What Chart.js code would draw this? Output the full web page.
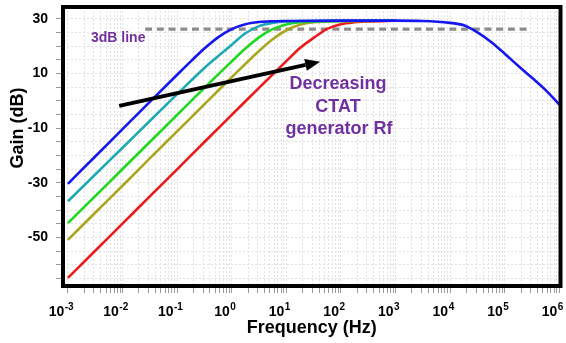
<!DOCTYPE html>
<html><head><meta charset="utf-8">
<script src="https://cdn.jsdelivr.net/npm/chart.js@4/dist/chart.umd.min.js"></script>
<style>html,body{margin:0;padding:0;background:#fff}#wrap{width:566px;height:343px;position:relative}canvas{display:block}</style>
</head><body><div id="wrap"><canvas id="c" width="566" height="343"></canvas></div>
<script>
// ---- data (frequency in Hz, gain in dB) ----
const blueFreq  = [0.001,0.00316,0.01,0.0316,0.1,0.178,0.316,0.562,1,1.78,3.16,5.62,10,100,1000,3162,10000,17783,31623,56234,100000,177828,316228,562341,1000000];
const blueGain  = [-30.4,-20.4,-10.4,-0.4,9.5,14.4,19.1,23.2,26.2,28.0,28.8,29.1,29.2,29.3,29.3,29.2,28.5,27.6,25.0,21.5,17.2,12.7,8.4,3.9,-1.4];
const cyanFreq  = [0.001,0.00316,0.01,0.0316,0.1,0.316,0.562,1,1.78,3.16,5.62,10,31.6,1000];
const cyanGain  = [-36.8,-27.0,-17.2,-7.4,2.4,12.0,16.3,20.5,24.7,27.3,28.5,29.0,29.2,29.3];
const greenFreq = [0.001,0.00316,0.01,0.0316,0.1,0.316,1,1.78,3.16,5.62,10,17.8,31.6,100,1000];
const greenGain = [-44.8,-34.9,-25.0,-15.1,-5.2,4.7,14.4,19.1,23.2,26.2,27.9,28.7,29.0,29.2,29.3];
const oliveFreq = [0.001,0.00316,0.01,0.0316,0.1,0.316,1,3.16,5.62,10,17.8,31.6,100,316,1000];
const oliveGain = [-50.9,-41.0,-31.1,-21.1,-11.2,-1.3,8.6,18.2,22.5,25.8,27.8,28.7,29.1,29.2,29.3];
const redFreq   = [0.001,0.00316,0.01,0.0316,0.1,0.316,1,3.16,10,17.8,31.6,56.2,100,178,316,1000];
const redGain   = [-64.8,-54.9,-45.0,-35.0,-25.1,-15.1,-5.2,4.7,14.5,19.3,23.0,26.3,28.0,28.7,29.0,29.3];
const line3dBFreq = [0.026, 260000];
const line3dBGain = [26.2, 26.2];

// ---- tick labels ----
const xDecades    = [-3,-2,-1,0,1,2,3,4,5,6];
const xTickBase   = '10';
const xTickExps   = ['-3','-2','-1','0','1','2','3','4','5','6'];
const yTickLabels = [30,10,-10,-30,-50];

const FONT = "'Liberation Sans', Arial, sans-serif";
const PURPLE = '#7030A0';

function pts(f,g){ return f.map((v,i)=>({x:v,y:g[i]})); }

function curve(label, f, g, color){
  return {label, data:pts(f,g), borderColor:color, backgroundColor:color,
    borderWidth:2.6, pointRadius:0, showLine:true, fill:false,
    cubicInterpolationMode:'monotone'};
}

const overlay = {
  id:'overlay',
  afterDatasetsDraw(chart){
    const ctx = chart.ctx, xs = chart.scales.x, ys = chart.scales.y;
    // arrow
    const x1 = xs.getPixelForValue(0.0087), y1 = ys.getPixelForValue(-1.9);
    const x2 = xs.getPixelForValue(41.7),  y2 = ys.getPixelForValue(14.3);
    const ang = Math.atan2(y2-y1, x2-x1), hl = 15, hw = 6;
    ctx.save();
    ctx.strokeStyle = '#000'; ctx.fillStyle = '#000'; ctx.lineWidth = 4; ctx.lineCap='butt';
    ctx.beginPath(); ctx.moveTo(x1,y1);
    ctx.lineTo(x2 - hl*Math.cos(ang), y2 - hl*Math.sin(ang)); ctx.stroke();
    ctx.beginPath(); ctx.moveTo(x2,y2);
    ctx.lineTo(x2 - hl*Math.cos(ang) + hw*Math.sin(ang), y2 - hl*Math.sin(ang) - hw*Math.cos(ang));
    ctx.lineTo(x2 - hl*Math.cos(ang) - hw*Math.sin(ang), y2 - hl*Math.sin(ang) + hw*Math.cos(ang));
    ctx.closePath(); ctx.fill();
    // texts
    ctx.fillStyle = PURPLE;
    ctx.font = 'bold 14px ' + FONT; ctx.textAlign='left'; ctx.textBaseline='alphabetic';
    ctx.fillText('3dB line', 91, 42);
    ctx.font = 'bold 18px ' + FONT; ctx.textAlign='center';
    ctx.fillText('Decreasing', 338, 89);
    ctx.fillText('CTAT', 338, 112);
    ctx.fillText('generator Rf', 339, 134);
    ctx.restore();
  },
  afterDraw(chart){
    const ctx = chart.ctx, a = chart.chartArea, xs = chart.scales.x;
    ctx.save();
    ctx.strokeStyle = '#000'; ctx.lineWidth = 4;
    ctx.strokeRect(a.left, a.top, a.right-a.left, a.bottom-a.top);
    // x tick labels 10^n with superscript exponent
    ctx.fillStyle = '#000'; ctx.textBaseline='alphabetic'; ctx.textAlign='left';
    xDecades.forEach((e,i)=>{
      const px = xs.getPixelForValue(Math.pow(10,e));
      ctx.font = 'bold 14px ' + FONT;
      const wb = ctx.measureText(xTickBase).width;
      ctx.font = 'bold 10px ' + FONT;
      const we = ctx.measureText(xTickExps[i]).width;
      let left = px - 7 - (wb+we)/2;
      if (left + wb + we > 565) left = 565 - wb - we;
      ctx.font = 'bold 14px ' + FONT;
      ctx.fillText(xTickBase, left, 316);
      ctx.font = 'bold 10px ' + FONT;
      ctx.fillText(xTickExps[i], left + wb + 0.5, 310);
    });
    // y axis title
    ctx.translate(18, 128); ctx.rotate(-Math.PI/2);
    ctx.font = 'bold 18px ' + FONT;
    ctx.textAlign='center'; ctx.textBaseline='middle';
    ctx.fillText('Gain (dB)', 0, 0);
    ctx.restore();
  }
};

new Chart(document.getElementById('c'), {
  type:'scatter',
  data:{ datasets:[
    curve('blue',  blueFreq,  blueGain,  '#1616f0'),
    curve('cyan',  cyanFreq,  cyanGain,  '#1eaab4'),
    curve('green', greenFreq, greenGain, '#1fd81f'),
    curve('olive', oliveFreq, oliveGain, '#aaa622'),
    curve('red',   redFreq,   redGain,   '#ec1a1a'),
    {label:'3dB line', data:pts(line3dBFreq,line3dBGain), showLine:true, pointRadius:0,
     borderColor:'#8c8c8c', borderWidth:3.2, borderDash:[7,4.7], fill:false}
  ]},
  options:{
    responsive:false, animation:false, devicePixelRatio:1,
    layout:{padding:{left:0,right:5.5,top:7,bottom:0}},
    plugins:{legend:{display:false}, tooltip:{enabled:false}},
    scales:{
      x:{
        type:'logarithmic', min:0.000813, max:1050000,
        afterBuildTicks(s){
          const t=[];
          xDecades.forEach(e=>{ for(let m=1;m<=9;m++){ const v=m*Math.pow(10,e); if(v<=1000001) t.push({value:v}); } });
          s.ticks=t;
        },
        afterFit(s){ s.height=57; s.paddingLeft=0; s.paddingRight=0; },
        ticks:{autoSkip:false, maxRotation:0, minRotation:0, padding:9, color:'#000',
          font:{family:FONT, size:14, weight:'bold'},
          callback(){ return ''; }},
        grid:{color:'#e2e2e2', lineWidth:1, tickLength:7, tickColor:'#999', drawTicks:true},
        border:{display:false, dash:[2,2]},
        title:{display:true, text:'Frequency (Hz)', color:'#000',
          font:{family:FONT, size:18, weight:'bold'}, padding:{top:0,bottom:4}}
      },
      y:{
        type:'linear', min:-67.8, max:34.3,
        afterBuildTicks(s){ const t=[]; for(let v=-65; v<=30; v+=5) t.push({value:v}); s.ticks=t; },
        afterFit(s){ s.width=63; s.paddingTop=0; s.paddingBottom=0; },
        ticks:{autoSkip:false, padding:8, color:'#000',
          font:{family:FONT, size:14, weight:'bold'},
          callback(v){ return yTickLabels.includes(v) ? String(v) : ''; }},
        grid:{color:'#e2e2e2', lineWidth:1, tickLength:7, tickColor:'#999'},
        border:{display:false, dash:[2,2]}
      }
    }
  },
  plugins:[overlay]
});
</script></body></html>
